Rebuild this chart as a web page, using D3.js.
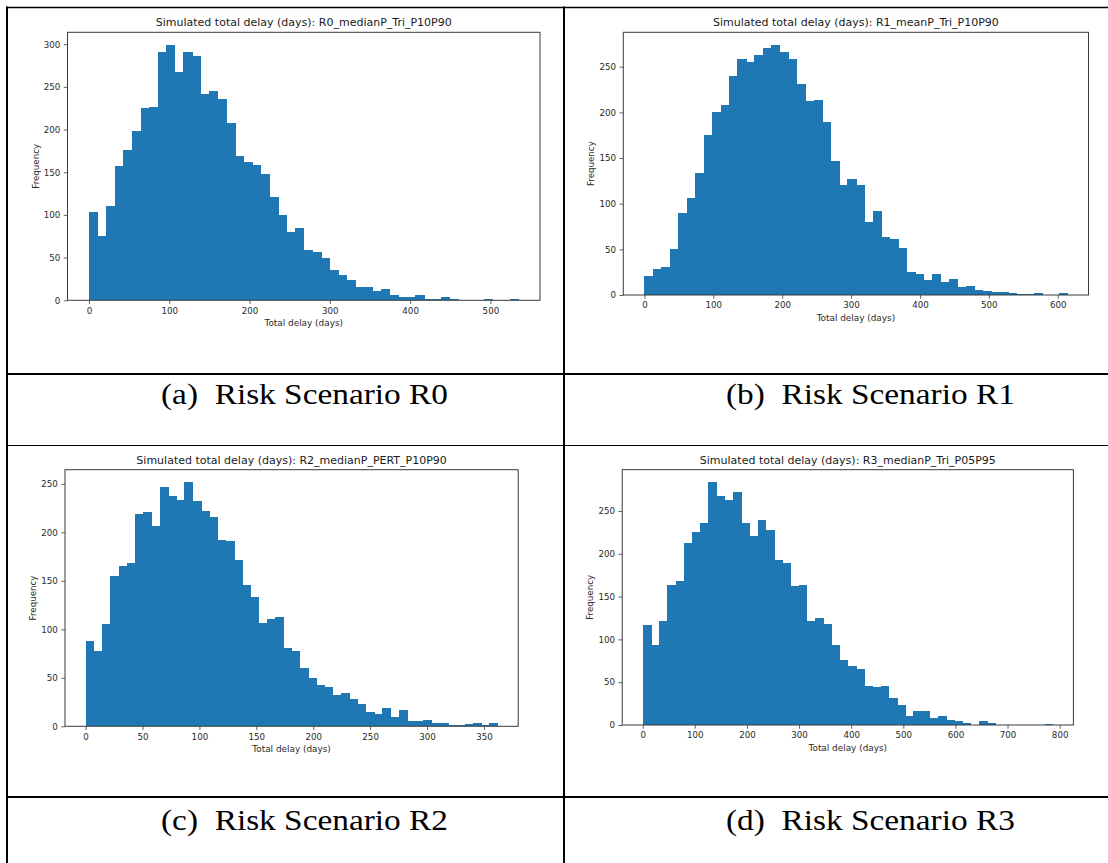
<!DOCTYPE html>
<html>
<head>
<meta charset="utf-8">
<script src="https://cdn.jsdelivr.net/npm/d3@7"></script>
<style>
    html, body { margin: 0; padding: 0; background: #fff; }
    svg { display: block; }
    .caption { white-space: pre; }
</style>
</head>
<body>
<svg id="figure"></svg>
<script>
// histogram counts, 50 bins each
const r0Counts = [104, 75, 111, 157, 176, 198, 225, 227, 291, 299,
    268, 291, 286, 242, 245, 236, 208, 169, 162, 158,
    148, 121, 100, 80, 85, 59, 57, 50, 35, 30,
    24, 16, 16, 11, 13, 6, 4, 4, 6, 1,
    1, 4, 2, 0, 0, 0, 1, 0, 0, 1];
const r1Counts = [21, 29, 31, 50, 90, 106, 134, 175, 200, 208,
    240, 258, 255, 263, 270, 274, 266, 258, 231, 213,
    214, 190, 147, 120, 127, 120, 80, 92, 64, 61,
    52, 25, 23, 16, 23, 14, 18, 9, 10, 6,
    4, 3, 3, 2, 1, 1, 2, 0, 0, 2];
const r2Counts = [88, 78, 106, 155, 165, 168, 219, 221, 207, 247,
    237, 233, 252, 232, 222, 216, 192, 191, 172, 146,
    133, 107, 111, 113, 81, 78, 60, 50, 43, 41,
    32, 34, 28, 23, 15, 13, 19, 10, 17, 5,
    5, 6, 3, 3, 1, 1, 2, 3, 1, 3];
const r3Counts = [117, 94, 121, 163, 168, 212, 226, 236, 284, 268,
    263, 272, 236, 221, 239, 228, 193, 189, 162, 164,
    121, 125, 118, 94, 76, 69, 65, 46, 44, 45,
    32, 23, 10, 16, 16, 8, 10, 6, 5, 2,
    0, 5, 2, 0, 0, 0, 0, 0, 0, 1];

// largest simulated delay (days) per scenario, bins start at 0
const maxDelays = [535, 614, 362, 787];

const titles = [
    'Simulated total delay (days): R0_medianP_Tri_P10P90',
    'Simulated total delay (days): R1_meanP_Tri_P10P90',
    'Simulated total delay (days): R2_medianP_PERT_P10P90',
    'Simulated total delay (days): R3_medianP_Tri_P05P95'
];
const captions = [
    '(a)  Risk Scenario R0',
    '(b)  Risk Scenario R1',
    '(c)  Risk Scenario R2',
    '(d)  Risk Scenario R3'
];
const xTicks = [
    [0, 100, 200, 300, 400, 500],
    [0, 100, 200, 300, 400, 500, 600],
    [0, 50, 100, 150, 200, 250, 300, 350],
    [0, 100, 200, 300, 400, 500, 600, 700, 800]
];
const yTicks = [
    [0, 50, 100, 150, 200, 250, 300],
    [0, 50, 100, 150, 200, 250],
    [0, 50, 100, 150, 200, 250],
    [0, 50, 100, 150, 200, 250]
];
const allCounts = [r0Counts, r1Counts, r2Counts, r3Counts];

const width = 1108;
const height = 863;

// plot frames inside the table cells
const frames = [
    { left: 67.5, right: 540, top: 32.3, bottom: 300.3 },
    { left: 623.3, right: 1088.5, top: 32.3, bottom: 295 },
    { left: 65, right: 518.2, top: 469.7, bottom: 726.3 },
    { left: 622.2, right: 1073.4, top: 469.7, bottom: 725 }
];
const captionPos = [
    { x: 161, y: 404 },
    { x: 726, y: 404 },
    { x: 161, y: 830 },
    { x: 726, y: 830 }
];

const barColor = '#1f77b4';
const tickFont = 'DejaVu Sans, sans-serif';

const svg = d3.select('#figure')
    .attr('width', width)
    .attr('height', height);

function drawHist(i) {
    const f = frames[i];
    const counts = allCounts[i];
    const maxX = maxDelays[i];
    const nBins = counts.length;
    const binW = maxX / nBins;
    const maxY = d3.max(counts);

    // matplotlib-like auto limits: 5% margins on x, top margin on y
    const x = d3.scaleLinear()
        .domain([-0.05 * maxX, 1.05 * maxX])
        .range([f.left, f.right]);
    const y = d3.scaleLinear()
        .domain([0, 1.05 * maxY])
        .range([f.bottom, f.top]);

    const g = svg.append('g').attr('class', 'panel');

    g.append('g')
        .attr('class', 'bars')
        .attr('shape-rendering', 'crispEdges')
        .selectAll('rect')
        .data(counts)
        .enter()
        .append('rect')
            .attr('x', (d, k) => x(k * binW))
            .attr('width', (d, k) => x((k + 1) * binW) - x(k * binW) + 0.6)
            .attr('y', d => y(d))
            .attr('height', d => y(0) - y(d))
            .attr('fill', barColor);

    // frame
    g.append('rect')
        .attr('x', f.left)
        .attr('y', f.top)
        .attr('width', f.right - f.left)
        .attr('height', f.bottom - f.top)
        .attr('fill', 'none')
        .attr('stroke', '#3a3a3a')
        .attr('stroke-width', 1);

    const xAxis = g.append('g')
        .attr('transform', `translate(0,${f.bottom})`)
        .call(d3.axisBottom(x).tickValues(xTicks[i]).tickSize(3.7).tickPadding(3.5));
    const yAxis = g.append('g')
        .attr('transform', `translate(${f.left},0)`)
        .call(d3.axisLeft(y).tickValues(yTicks[i]).tickSize(3.7).tickPadding(3.5));

    [xAxis, yAxis].forEach(a => {
        a.select('.domain').remove();
        a.selectAll('line').attr('stroke', '#3a3a3a').attr('stroke-width', 0.8);
        a.selectAll('text')
            .attr('fill', '#2a2a2a')
            .style('font-family', tickFont)
            .style('font-size', '8.7px');
    });

    // title and axis labels
    g.append('text')
        .attr('x', (f.left + f.right) / 2)
        .attr('y', f.top - 6)
        .attr('text-anchor', 'middle')
        .attr('fill', '#1a1a1a')
        .style('font-family', tickFont)
        .style('font-size', '11px')
        .text(titles[i]);

    g.append('text')
        .attr('x', (f.left + f.right) / 2)
        .attr('y', f.bottom + 25.5)
        .attr('text-anchor', 'middle')
        .attr('fill', '#2a2a2a')
        .style('font-family', tickFont)
        .style('font-size', '8.9px')
        .text('Total delay (days)');

    g.append('text')
        .attr('transform', `translate(${f.left - 29},${(f.top + f.bottom) / 2}) rotate(-90)`)
        .attr('text-anchor', 'middle')
        .attr('fill', '#2a2a2a')
        .style('font-family', tickFont)
        .style('font-size', '8.7px')
        .text('Frequency');

    // caption below the plot, the scanned page is a little stretched sideways
    svg.append('text')
        .attr('class', 'caption')
        .attr('transform', `translate(${captionPos[i].x},${captionPos[i].y}) scale(1.13,1)`)
        .attr('fill', '#000')
        .style('font-family', '"Liberation Serif", "Times New Roman", serif')
        .style('font-size', '29.5px')
        .text(captions[i]);
}

d3.range(4).forEach(drawHist);

// table rules
const rules = [
    { x1: 6, y1: 7.5, x2: width, y2: 7.5, w: 1.5 },
    { x1: 7, y1: 6.5, x2: 7, y2: height, w: 2 },
    { x1: 564, y1: 6.5, x2: 564, y2: height, w: 2 },
    { x1: 6, y1: 374, x2: width, y2: 374, w: 2 },
    { x1: 6, y1: 445.5, x2: width, y2: 445.5, w: 1.2 },
    { x1: 6, y1: 797, x2: width, y2: 797, w: 2 }
];
svg.append('g')
    .attr('class', 'rules')
    .selectAll('line')
    .data(rules)
    .enter()
    .append('line')
        .attr('x1', d => d.x1)
        .attr('y1', d => d.y1)
        .attr('x2', d => d.x2)
        .attr('y2', d => d.y2)
        .attr('stroke', '#000')
        .attr('stroke-width', d => d.w);
</script>
</body>
</html>
